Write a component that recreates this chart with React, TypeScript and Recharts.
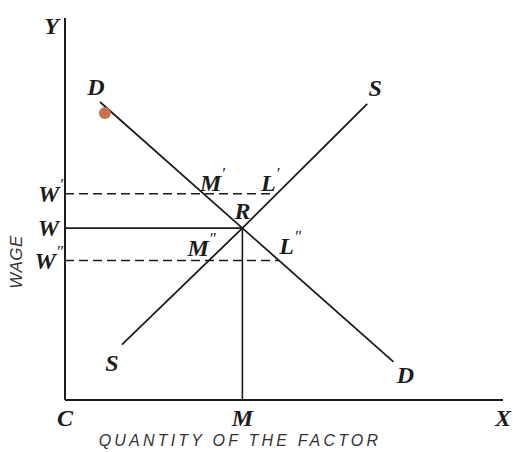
import { LineChart, Line, XAxis, YAxis, ReferenceDot } from "recharts";

// curves (quantity, wage), axes run 0..100
const demand = [
  { x: 8, y: 78 },
  { x: 40.5, y: 45 },
  { x: 75, y: 10 },
];
const supply = [
  { x: 13, y: 14.5 },
  { x: 40.5, y: 45 },
  { x: 69, y: 77.5 },
];

const wageLevels = [36.5, 45, 54];
const wageLineEnds = [48.9, 40.5, 48];
const equilibriumQty = 40.5;

const xTicks = [0, 40.5, 100];
const xTickNames = ["C", "M", "X"];
const yTicks = [36.5, 45, 54, 98];
const yTickNames = ["W″", "W", "W′", "Y"];

const namedPoints = [
  { id: "d1", name: "D", x: 8, y: 78 },
  { id: "s2", name: "S", x: 69, y: 77.5 },
  { id: "m1", name: "M′", x: 31.6, y: 54 },
  { id: "l1", name: "L′", x: 48, y: 54 },
  { id: "r", name: "R", x: 40.5, y: 45 },
  { id: "m2", name: "M″", x: 32.8, y: 36.5 },
  { id: "l2", name: "L″", x: 48.9, y: 36.5 },
  { id: "s1", name: "S", x: 13, y: 14.5 },
  { id: "d2", name: "D", x: 75, y: 10 },
];

const stain = [{ x: 9.1, y: 75.1 }];

// label nudges in px
const labelShift: Record<string, [number, number]> = {
  d1: [-4, -15],
  s2: [8, -16],
  m1: [9, -11],
  l1: [-5, -11],
  r: [0, -17],
  m2: [-7, -13],
  l2: [11, -15],
  s1: [-10, 18],
  d2: [12, 13],
};

const INK = "#1c1c1c";
const SERIF = "'Liberation Serif', serif";

// letter with a raised prime, like the printed figure
function Letter({
  x,
  y,
  text,
  anchor = "middle",
}: {
  x: number;
  y: number;
  text: string;
  anchor?: "middle" | "end" | "start";
}) {
  const base = text.replace(/[′″]/g, "");
  const prime = text.slice(base.length);
  return (
    <text
      x={x}
      y={y}
      textAnchor={anchor}
      dominantBaseline="central"
      fontFamily={SERIF}
      fontStyle="italic"
      fontWeight="bold"
      fontSize={24}
      fill={INK}
    >
      {base}
      {prime && (
        <tspan fontSize={17} fontWeight="normal" dx={0} dy={-10}>
          {prime}
        </tspan>
      )}
    </text>
  );
}

export default function App() {
  return (
    <div style={{ position: "absolute", left: 0, top: 0, background: "#fff" }}>
      <LineChart
        width={513}
        height={452}
        margin={{ top: 18, right: 10, bottom: 0, left: 0 }}
      >
        <XAxis
          type="number"
          dataKey="x"
          domain={[0, 100]}
          ticks={xTicks}
          tick={(p: any) => (
            <Letter
              x={p.x}
              y={p.y + 10}
              text={xTickNames[xTicks.indexOf(p.payload.value)]}
            />
          )}
          tickLine={false}
          axisLine={{ stroke: INK, strokeWidth: 2 }}
          height={52}
          interval={0}
          label={(p: any) => {
            const vb = p.viewBox;
            return (
              <text
                x={vb.x + 175}
                y={vb.y + 40}
                textAnchor="middle"
                dominantBaseline="central"
                fontFamily="'Liberation Sans', sans-serif"
                fontStyle="italic"
                fontSize={16}
                letterSpacing={3.2}
                fill="#333"
              >
                QUANTITY OF THE FACTOR
              </text>
            );
          }}
        />
        <YAxis
          type="number"
          domain={[0, 100]}
          ticks={yTicks}
          tick={(p: any) => {
            const name = yTickNames[yTicks.indexOf(p.payload.value)];
            const hasPrime = name.length > 1;
            return (
              <Letter
                x={p.x + (hasPrime ? 6 : 2)}
                y={p.y}
                anchor="end"
                text={name}
              />
            );
          }}
          tickLine={false}
          axisLine={{ stroke: INK, strokeWidth: 2 }}
          width={65}
          interval={0}
          label={(p: any) => {
            const vb = p.viewBox;
            const cx = vb.x + 16;
            const cy = vb.y + vb.height - 138;
            return (
              <text
                x={cx}
                y={cy}
                transform={`rotate(-90 ${cx} ${cy})`}
                textAnchor="middle"
                dominantBaseline="central"
                fontFamily="'Liberation Sans', sans-serif"
                fontStyle="italic"
                fontSize={17}
                letterSpacing={0.5}
                fill="#333"
              >
                WAGE
              </text>
            );
          }}
        />

        {wageLevels.map((w, i) => (
          <Line
            key={"w" + i}
            data={[
              { x: 0, y: w },
              { x: wageLineEnds[i], y: w },
            ]}
            dataKey="y"
            stroke={INK}
            strokeWidth={1.6}
            strokeDasharray={w === 45 ? undefined : "9 5"}
            dot={false}
            isAnimationActive={false}
          />
        ))}
        <Line
          data={[
            { x: equilibriumQty, y: 0 },
            { x: equilibriumQty, y: 45 },
          ]}
          dataKey="y"
          stroke={INK}
          strokeWidth={1.6}
          dot={false}
          isAnimationActive={false}
        />
        <Line
          data={demand}
          dataKey="y"
          stroke={INK}
          strokeWidth={1.8}
          dot={false}
          isAnimationActive={false}
        />
        <Line
          data={supply}
          dataKey="y"
          stroke={INK}
          strokeWidth={1.8}
          dot={false}
          isAnimationActive={false}
        />

        {stain.map((s, i) => (
          <ReferenceDot
            key={"st" + i}
            x={s.x}
            y={s.y}
            r={6}
            fill="#c4714f"
            stroke="none"
          />
        ))}

        {namedPoints.map((pt) => (
          <ReferenceDot
            key={pt.id}
            x={pt.x}
            y={pt.y}
            r={0}
            stroke="none"
            fill="none"
            label={(p: any) => {
              const vb = p.viewBox;
              const [dx, dy] = labelShift[pt.id];
              return (
                <Letter
                  x={vb.x + vb.width / 2 + dx}
                  y={vb.y + vb.height / 2 + dy}
                  text={pt.name}
                />
              );
            }}
          />
        ))}
      </LineChart>
    </div>
  );
}
